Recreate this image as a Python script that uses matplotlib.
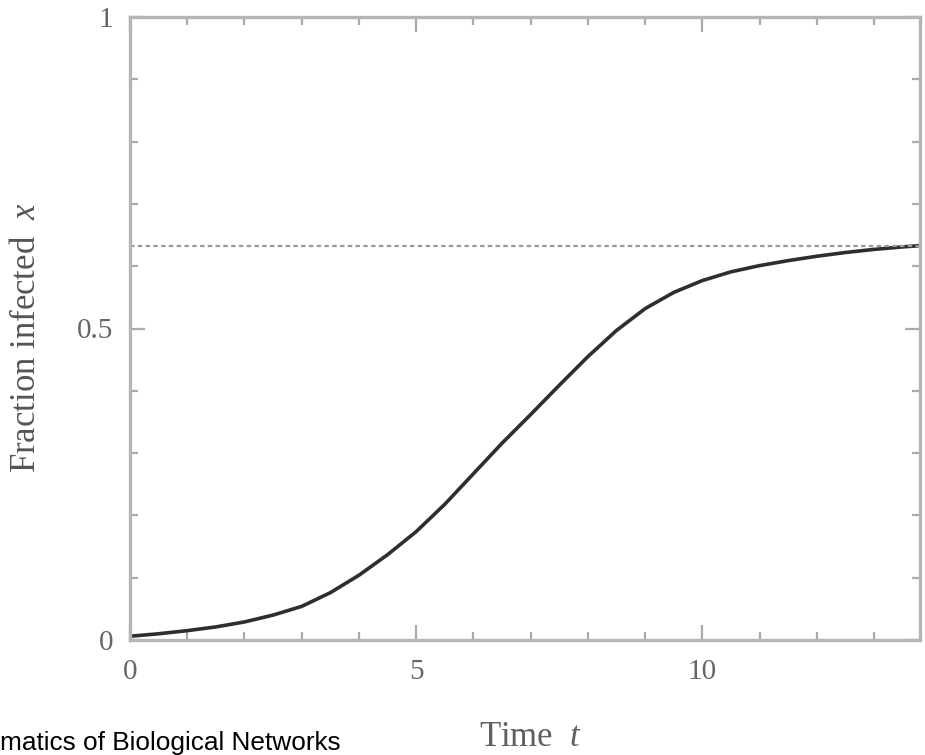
import matplotlib
matplotlib.use("Agg")
import matplotlib.pyplot as plt
from matplotlib.ticker import MultipleLocator

plt.rcParams["mathtext.fontset"] = "custom"
plt.rcParams["mathtext.it"] = "Liberation Serif:italic"
plt.rcParams["mathtext.rm"] = "Liberation Serif"

# Data
t_vals = [0, 0.5, 1, 1.5, 2, 2.5, 3, 3.5, 4, 4.5, 5, 5.5, 6, 6.5, 7, 7.5, 8,
          8.5, 9, 9.5, 10, 10.5, 11, 11.5, 12, 12.5, 13, 13.5, 13.8]
x_vals = [0.006, 0.01, 0.015, 0.021, 0.029, 0.04, 0.054, 0.076, 0.104, 0.137,
          0.174, 0.218, 0.267, 0.316, 0.362, 0.409, 0.455, 0.497, 0.532, 0.558,
          0.577, 0.591, 0.601, 0.609, 0.616, 0.622, 0.627, 0.631, 0.633]
x_star = 0.632
x_ticks = [0, 5, 10]
x_ticklabels = ["0", "5", "10"]
y_ticks = [0, 0.5, 1]
y_ticklabels = ["0", "0.5", "1"]

fig = plt.figure(figsize=(9.25, 7.55), dpi=100)
ax = fig.add_axes([130/925, 1-640/755, (920-130)/925, (640-17)/755])

ax.plot(t_vals, x_vals, color="#2e2e2e", lw=2.6, solid_joinstyle="round",
        solid_capstyle="round")
ax.axhline(x_star, color="#9a9a9a", lw=1.6, ls=(0, (2, 1.5)))

ax.set_xlim(0, 13.8)
ax.set_ylim(0, 1)

for s in ax.spines.values():
    s.set_color("#b5b5b5")
    s.set_linewidth(2.4)

serif = "Liberation Serif"
ax.set_xticks(x_ticks)
ax.set_xticklabels(x_ticklabels, family=serif, fontsize=21, color="#666666")
ax.set_yticks(y_ticks)
ax.set_yticklabels(y_ticklabels, family=serif, fontsize=21, color="#666666")
ax.xaxis.set_minor_locator(MultipleLocator(1))
ax.yaxis.set_minor_locator(MultipleLocator(0.1))
ax.tick_params(which="major", direction="in", length=11, width=1.6,
               color="#aaaaaa", top=True, right=True, pad=14)
ax.tick_params(which="minor", direction="in", length=6, width=1.6,
               color="#aaaaaa", top=True, right=True)
ax.tick_params(axis="y", which="major", pad=12)

fig.text(531/925, 1-738/755, "Time  $t$", family=serif, fontsize=25,
         color="#606060", ha="center", va="center")
fig.text(27/925, 1-338/755, "Fraction infected  $x$", family=serif, fontsize=25,
         color="#555555", ha="center", va="center", rotation=90)

fig.text(0/925, 1-750/755, "matics of Biological Networks", family="Liberation Sans",
         fontsize=18.9, color="black", ha="left", va="baseline")

fig.savefig("out.png", dpi=100)
